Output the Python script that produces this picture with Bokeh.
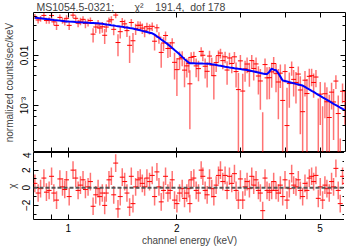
import numpy as np
from bokeh.plotting import figure
from bokeh.layouts import column
from bokeh.models import (LogAxis, LinearAxis, FixedTicker, LogTicker,
                          CustomJSTickFormatter, Span, Range1d, ColumnDataSource)
from bokeh.embed import file_html
from bokeh.resources import INLINE

# ---------------- data ----------------
energy = [0.807, 0.824, 0.837, 0.855, 0.869, 0.884, 0.898, 0.911, 0.927, 0.947,
          0.963, 0.977, 0.988, 1.005, 1.030, 1.048, 1.064, 1.080, 1.098, 1.115,
          1.134, 1.151, 1.171, 1.191, 1.209, 1.222, 1.242, 1.261, 1.274, 1.296,
          1.316, 1.336, 1.353, 1.373, 1.393, 1.411, 1.433, 1.454, 1.479, 1.495,
          1.511, 1.537, 1.560, 1.583, 1.604, 1.628, 1.652, 1.680, 1.709, 1.735,
          1.761, 1.784, 1.810, 1.837, 1.861, 1.889, 1.917, 1.942, 1.971, 2.001,
          2.035, 2.070, 2.101, 2.132, 2.160,
          2.174, 2.192, 2.230, 2.263, 2.297, 2.337, 2.362, 2.397, 2.428, 2.465,
          2.501, 2.534, 2.572, 2.610, 2.644, 2.683, 2.723, 2.758, 2.800, 2.842,
          2.891, 2.921, 2.965, 3.003, 3.048, 3.094, 3.134, 3.181, 3.229, 3.270,
          3.319, 3.369, 3.412, 3.463, 3.515, 3.560, 3.614, 3.668, 3.715, 3.771,
          3.828, 3.877, 3.935, 3.994, 4.045, 4.106, 4.168, 4.221, 4.284, 4.349,
          4.405, 4.471, 4.538, 4.596, 4.665, 4.735, 4.796, 4.868, 4.941, 5.004,
          5.079, 5.155, 5.221, 5.300, 5.379, 5.448, 5.530, 5.613, 5.685, 5.770,
          5.857]

model = [0.0570, 0.0560, 0.0553, 0.0543, 0.0535, 0.0528, 0.0521, 0.0514, 0.0507, 0.0498,
         0.0491, 0.0485, 0.0480, 0.0476, 0.0471, 0.0467, 0.0464, 0.0461, 0.0458, 0.0455,
         0.0451, 0.0448, 0.0445, 0.0442, 0.0439, 0.0437, 0.0430, 0.0423, 0.0418, 0.0410,
         0.0403, 0.0397, 0.0391, 0.0385, 0.0379, 0.0374, 0.0367, 0.0362, 0.0355, 0.0351,
         0.0347, 0.0336, 0.0327, 0.0319, 0.0311, 0.0303, 0.0295, 0.0286, 0.0278, 0.0261,
         0.0241, 0.0226, 0.0209, 0.0194, 0.0182, 0.0167, 0.0153, 0.0141, 0.0129, 0.0118,
         0.0106, 0.00940, 0.00845, 0.00773, 0.00718,
         0.00700, 0.00698, 0.00696, 0.00694, 0.00692, 0.00690, 0.00689, 0.00688, 0.00686, 0.00682,
         0.00669, 0.00658, 0.00645, 0.00632, 0.00622, 0.00610, 0.00598, 0.00588, 0.00577, 0.00568,
         0.00557, 0.00551, 0.00542, 0.00535, 0.00526, 0.00518, 0.00511, 0.00502, 0.00490, 0.00480,
         0.00468, 0.00456, 0.00446, 0.00435, 0.00425, 0.00425, 0.00474, 0.00544, 0.00520, 0.00508,
         0.00441, 0.00378, 0.00316, 0.00308, 0.00301, 0.00293, 0.00285, 0.00279, 0.00271, 0.00264,
         0.00258, 0.00251, 0.00236, 0.00223, 0.00210, 0.00197, 0.00187, 0.00175, 0.00164, 0.00156,
         0.00146, 0.00137, 0.00130, 0.00122, 0.00114, 0.00108, 0.00102, 0.000958, 0.000910, 0.000858,
         0.000808]

chi = [0.5, -0.6, -0.1, 1.1, -0.5, -0.3, 1.3, -0.6, -1.4, 1.0,
       0.1, -0.2, 0.9, -1.0, 2.0, 1.1, -0.3, 0.3, 0.9, -0.2,
       0.1, 0.7, -2.1, -0.8, -0.1, -1.0, -0.6, -2.0, -0.6, 0.9,
       1.3, -0.8, 2.8, -2.4, -1.0, 1.2, 0.7, -0.6, -2.2, 1.3,
       -1.8, 0.1, 0.9, 1.1, 0.5, 0.1, 1.1, 0.7, 1.4, -1.0,
       1.8, 0.1, -1.6, -0.3, 1.3, -0.6, -0.3, 0.9, -1.4, -1.8,
       -0.6, -0.1, -1.2, -0.6, -0.1,
       -1.8, 0.9, 1.1, -0.3, -0.6, 2.0, 1.3, -0.3, -0.8, 1.1,
       -0.1, -1.0, 0.3, 1.4, 2.0, 0.7, 1.4, -0.3, 1.3, 0.5,
       1.6, -0.3, -1.4, 1.0, -1.4, 0.1, 0.7, -0.1, 1.3, 0.3,
       0.9, -0.3, -0.6, -2.6, 1.1, -0.3, -0.5, -0.3, 0.7, -0.3,
       -0.6, 0.3, -1.0, 0.9, -1.4, -0.1, 1.6, 0.3, 0.1, 0.9,
       -0.3, -1.0, 0.5, -0.3, 1.1, 1.3, 0.7, 1.4, -1.2, 0.1,
       -1.4, 0.3, -0.1, -0.6, 0.7, 0.1, 2.2, -0.3, -1.8, 1.3,
       0.5]

rel_err = [0.12, 0.14, 0.13, 0.15, 0.13, 0.14, 0.16, 0.14, 0.15, 0.16,
           0.14, 0.15, 0.17, 0.16, 0.18, 0.17, 0.16, 0.18, 0.17, 0.19,
           0.18, 0.17, 0.19, 0.20, 0.18, 0.19, 0.21, 0.20, 0.19, 0.21,
           0.22, 0.20, 0.23, 0.22, 0.21, 0.23, 0.24, 0.22, 0.25, 0.23,
           0.24, 0.26, 0.25, 0.24, 0.27, 0.26, 0.25, 0.28, 0.27, 0.26,
           0.27, 0.27, 0.28, 0.28, 0.29, 0.29, 0.30, 0.30, 0.31, 0.31,
           0.32, 0.32, 0.33, 0.33, 0.34,
           0.34, 0.35, 0.34, 0.36, 0.35, 0.37, 0.36, 0.38, 0.37, 0.39,
           0.38, 0.40, 0.39, 0.41, 0.40, 0.42, 0.41, 0.43, 0.42, 0.44,
           0.43, 0.45, 0.44, 0.46, 0.45, 0.47, 0.46, 0.48, 0.47, 0.49,
           0.50, 0.49, 0.51, 0.52, 0.50, 0.53, 0.48, 0.45, 0.47, 0.49,
           0.55, 0.58, 0.60, 0.61, 0.62, 0.63, 0.64, 0.65, 0.66, 0.68,
           0.69, 0.70, 0.72, 0.74, 0.75, 0.77, 0.78, 0.80, 0.81, 0.82,
           0.84, 0.85, 0.86, 0.88, 0.89, 0.90, 0.92, 0.93, 0.95, 0.96,
           0.98]

x_ticks = [0.9, 1, 2, 3, 4, 5]
x_tick_labels = {"1": "1", "2": "2", "5": "5"}
y_decade_labels = {"-1": "0.1", "-2": "0.01", "-3": "10\u207b\u00b3", "-4": "10\u207b\u2074"}
chi_ticks = [-2, 0, 2, 4]
chi_minor = [-3, -1, 1, 3]
NB = "\u00a0"
title_text = ("MS1054.5-0321;" + NB * 7 + "\u03c7\u00b2" + NB * 4 +
              "191.4," + NB * 2 + "dof" + NB + "178")

# ---------------- derived ----------------
E = np.array(energy)
m = np.array(model)
c = np.array(chi)
err = np.array(rel_err) * m
cnt = m + c * err
lo = np.maximum(cnt - err, 1e-9)
hi = cnt + err
HW = 1.016
src = ColumnDataSource(dict(E=E, El=E / HW, Eh=E * HW, cnt=cnt, lo=lo, hi=hi,
                            chi=c, clo=c - 1, chi_hi=c + 1, m=m))

FONT = "Liberation Sans"
FS = "10px"
LEFT = 25
RIGHT = 2
FW = 312
XR = (0.8, 5.88)

blank_fmt = CustomJSTickFormatter(code="return '';")


def style_axis(ax, labels=True):
    ax.axis_line_color = None
    ax.major_tick_in = 5
    ax.major_tick_out = 0
    ax.minor_tick_in = 3
    ax.minor_tick_out = 0
    ax.major_tick_line_color = "black"
    ax.minor_tick_line_color = "black"
    ax.major_label_text_font = FONT
    ax.axis_label_text_font = FONT
    ax.axis_label_text_font_style = "normal"
    ax.axis_label_text_font_size = FS
    ax.major_label_text_color = "black"
    if labels:
        ax.major_label_text_font_size = FS
    else:
        ax.formatter = blank_fmt
        ax.major_label_text_font_size = "1px"
        ax.major_label_standoff = 0


x_fmt = CustomJSTickFormatter(args=dict(labels=x_tick_labels),
                              code="const k = String(Math.round(tick*10)/10); return labels[k] ?? '';")
y_fmt = CustomJSTickFormatter(args=dict(labels=y_decade_labels),
                              code="const k = String(Math.round(Math.log10(tick))); return labels[k] ?? '';")
chi_fmt = CustomJSTickFormatter(code="return tick < 0 ? '\\u2212' + Math.abs(tick) : String(tick);")

# ---------------- upper panel ----------------
p1 = figure(frame_width=FW, frame_height=140, x_axis_type="log", y_axis_type="log",
            x_range=Range1d(*XR), y_range=Range1d(1.15e-4, 0.0724),
            output_backend="svg", toolbar_location=None,
            x_axis_location=None, y_axis_location=None,
            min_border_left=LEFT, min_border_right=RIGHT,
            min_border_top=7, min_border_bottom=0)
p1.grid.visible = False
p1.outline_line_color = "black"
p1.outline_line_width = 1
p1.title.text = title_text
p1.title.text_font = FONT
p1.title.text_font_size = "10.5px"
p1.title.text_font_style = "normal"
p1.title.offset = 3
p1.title.standoff = 0

la = LogAxis(ticker=LogTicker(), formatter=y_fmt, axis_label="normalized counts/sec/keV")
style_axis(la)
la.major_label_orientation = "vertical"
la.major_label_standoff = 3
la.axis_label_standoff = 2
p1.add_layout(la, "left")
ra = LogAxis(ticker=LogTicker())
style_axis(ra, labels=False)
p1.add_layout(ra, "right")
ta = LogAxis(ticker=FixedTicker(ticks=x_ticks))
style_axis(ta, labels=False)
p1.add_layout(ta, "above")
ba = LogAxis(ticker=FixedTicker(ticks=x_ticks))
style_axis(ba, labels=False)
p1.add_layout(ba, "below")

p1.segment(x0="E", y0="lo", x1="E", y1="hi", source=src,
           line_color="red", line_alpha=0.55, line_width=1.5)
p1.segment(x0="El", y0="cnt", x1="Eh", y1="cnt", source=src,
           line_color="red", line_alpha=1.0, line_width=1)
p1.line(x="E", y="m", source=src, line_color="blue", line_width=2)

# ---------------- lower panel ----------------
p2 = figure(frame_width=FW, frame_height=67, x_axis_type="log",
            x_range=p1.x_range, y_range=Range1d(-3.6, 4.0),
            output_backend="svg", toolbar_location=None,
            x_axis_location=None, y_axis_location=None,
            min_border_left=LEFT, min_border_right=RIGHT,
            min_border_top=0, min_border_bottom=0)
p2.grid.visible = False
p2.outline_line_color = "black"
p2.outline_line_width = 1

la2 = LinearAxis(ticker=FixedTicker(ticks=chi_ticks, minor_ticks=chi_minor),
                 formatter=chi_fmt, axis_label="\u03c7")
style_axis(la2)
la2.major_label_orientation = "vertical"
la2.major_label_standoff = 3
la2.axis_label_standoff = 2
p2.add_layout(la2, "left")
ra2 = LinearAxis(ticker=FixedTicker(ticks=chi_ticks, minor_ticks=chi_minor))
style_axis(ra2, labels=False)
p2.add_layout(ra2, "right")
ta2 = LogAxis(ticker=FixedTicker(ticks=x_ticks))
style_axis(ta2, labels=False)
p2.add_layout(ta2, "above")
ba2 = LogAxis(ticker=FixedTicker(ticks=x_ticks), formatter=x_fmt,
              axis_label="channel energy (keV)")
style_axis(ba2)
ba2.major_label_standoff = 4
ba2.axis_label_standoff = 0
p2.add_layout(ba2, "below")

p2.add_layout(Span(location=0, dimension="width", line_color="#555555",
                   line_width=2, line_dash="4 2"))
p2.segment(x0="E", y0="clo", x1="E", y1="chi_hi", source=src,
           line_color="red", line_alpha=0.55, line_width=1.5)
p2.segment(x0="El", y0="chi", x1="Eh", y1="chi", source=src,
           line_color="red", line_alpha=1.0, line_width=1)

layout = column(p1, p2, spacing=0, styles={"margin-top": "-2px"})

open("out.html", "w").write(file_html(layout, INLINE))
